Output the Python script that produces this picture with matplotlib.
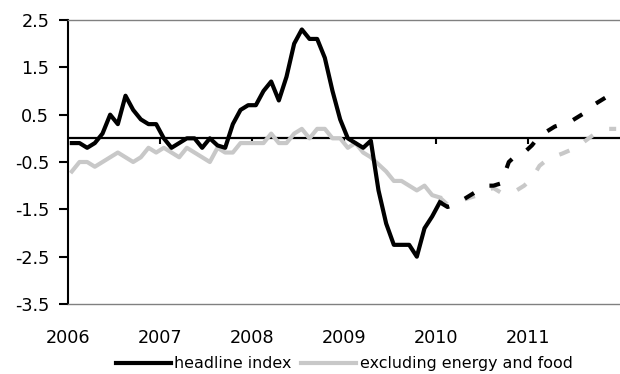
import matplotlib
matplotlib.use('Agg')
import numpy as np
import matplotlib.pyplot as plt

# monthly values, Jan 2006 onwards
headline_actual = [-0.1, -0.1, -0.2, -0.1, 0.1, 0.5, 0.3, 0.9, 0.6, 0.4, 0.3, 0.3,
                   0.0, -0.2, -0.1, 0.0, 0.0, -0.2, 0.0, -0.15, -0.2, 0.3, 0.6, 0.7,
                   0.7, 1.0, 1.2, 0.8, 1.3, 2.0, 2.3, 2.1, 2.1, 1.7, 1.0, 0.4,
                   0.0, -0.1, -0.2, -0.05, -1.1, -1.8, -2.25, -2.25, -2.25, -2.5, -1.9, -1.65,
                   -1.35]
# forecast, Jan 2010 - Dec 2011
headline_fcst = [-1.35, -1.45, -1.4, -1.3, -1.2, -1.1, -1.0, -1.0, -0.95, -0.5, -0.35, -0.3,
                 -0.15, 0.05, 0.15, 0.25, 0.3, 0.35, 0.45, 0.55, 0.7, 0.8, 0.9, 0.95]

core_actual = [-0.7, -0.5, -0.5, -0.6, -0.5, -0.4, -0.3, -0.4, -0.5, -0.4, -0.2, -0.3,
               -0.2, -0.3, -0.4, -0.2, -0.3, -0.4, -0.5, -0.2, -0.3, -0.3, -0.1, -0.1,
               -0.1, -0.1, 0.1, -0.1, -0.1, 0.1, 0.2, 0.0, 0.2, 0.2, 0.0, 0.0,
               -0.2, -0.1, -0.3, -0.4, -0.55, -0.7, -0.9, -0.9, -1.0, -1.1, -1.0, -1.2,
               -1.25]
core_fcst = [-1.25, -1.4, -1.35, -1.3, -1.25, -1.2, -1.1, -1.05, -1.15, -1.1, -1.1, -1.0,
             -0.85, -0.58, -0.45, -0.38, -0.32, -0.25, -0.18, -0.05, 0.07, 0.15, 0.2, 0.2]

years = ['2006', '2007', '2008', '2009', '2010', '2011']
yticks = [2.5, 1.5, 0.5, -0.5, -1.5, -2.5, -3.5]

GREY = '#c8c8c8'
LW = 3

fig = plt.figure(figsize=(6.2, 3.74), dpi=100)
ax = fig.add_axes([68 / 620, 1 - 304 / 374, 552 / 620, 284 / 374])

x_act = np.arange(len(headline_actual)) + 0.5
x_fc = np.arange(len(headline_actual) - 1, len(headline_actual) - 1 + len(headline_fcst)) + 0.5

ax.plot(x_act, headline_actual, color='black', lw=LW, label='headline index', zorder=4)
ax.plot(x_act, core_actual, color=GREY, lw=LW, label='excluding energy and food', zorder=3)
l1, = ax.plot(x_fc, headline_fcst, color='black', lw=LW, zorder=4)
l2, = ax.plot(x_fc, core_fcst, color=GREY, lw=LW, zorder=3)
for l in (l1, l2):
    l.set_dashes([2.6, 4.2])
    l.set_dash_capstyle('butt')

ax.axhline(0, color='black', lw=1.6, zorder=2)

ax.set_xlim(0, 72)
ax.set_ylim(-3.5, 2.5)
ax.set_yticks(yticks)
ax.set_yticklabels([f'{v:.1f}' for v in yticks])
ax.set_xticks(np.arange(0, 72, 12))
ax.set_xticklabels(years)

ax.tick_params(axis='y', direction='out', length=6.5, width=1.5, pad=7, labelsize=12.7)
ax.tick_params(axis='x', length=0, pad=18, labelsize=12.7)

for s in ('top', 'bottom'):
    ax.spines[s].set_color('#808080')
    ax.spines[s].set_linewidth(1)
ax.spines['right'].set_visible(False)
ax.spines['left'].set_linewidth(1.5)

# year ticks hanging below the zero line
zero = (0 - ax.get_ylim()[0]) / (ax.get_ylim()[1] - ax.get_ylim()[0])
sec = ax.secondary_xaxis(zero)
sec.set_xticks(np.arange(12, 72, 12))
sec.set_xticklabels([])
sec.tick_params(direction='in', length=4, width=1.5)
for sp in sec.spines.values():
    sp.set_visible(False)

ax.legend(loc='center', bbox_to_anchor=(0.5, -0.211), ncol=2, frameon=False,
          fontsize=11.4, handlelength=3.5, handletextpad=0.2, columnspacing=0.6,
          borderpad=0, borderaxespad=0)

fig.savefig('out.png', dpi=100)
